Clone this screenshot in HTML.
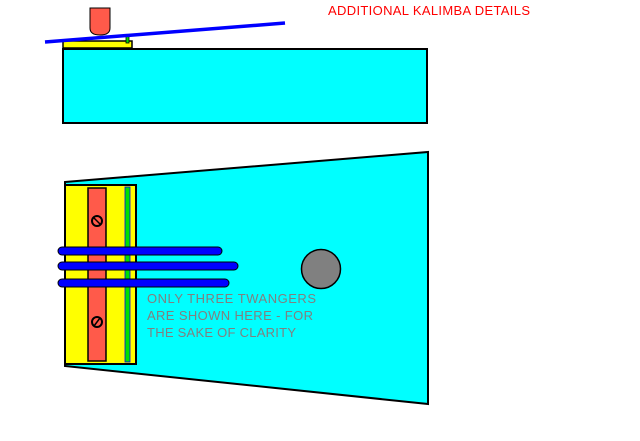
<!DOCTYPE html>
<html><head><meta charset="utf-8"><style>
html,body{margin:0;padding:0;background:#fff;}
svg{display:block;}
text{font-family:"Liberation Sans",Arial,sans-serif;}
</style></head><body>
<svg width="640" height="441" viewBox="0 0 640 441" xmlns="http://www.w3.org/2000/svg">
<text x="328" y="15" font-size="13" fill="#ff0000" textLength="202">ADDITIONAL KALIMBA DETAILS</text>
<rect x="63" y="49" width="364" height="74" fill="#00ffff" stroke="#000" stroke-width="2"/>
<rect x="63" y="41" width="69" height="7" fill="#ffff00" stroke="#000" stroke-width="1.5"/>
<rect x="126" y="36" width="3" height="7" fill="#00e000" stroke="#000" stroke-width="0.8"/>
<path d="M90,8 H110 V28 Q110,35 100,35 Q90,35 90,28 Z" fill="#ff5a4a" stroke="#000" stroke-width="1"/>
<line x1="45" y1="42" x2="285" y2="23" stroke="#0000ff" stroke-width="3.5"/>
<polygon points="65,182 428,152 428,404 65,366" fill="#00ffff" stroke="#000" stroke-width="2"/>
<rect x="65" y="185" width="71" height="179" fill="#ffff00" stroke="#000" stroke-width="2"/>
<rect x="125" y="187" width="5" height="175" fill="#00e000" stroke="#0000ff" stroke-width="0.8"/>
<rect x="88" y="188" width="18" height="173" fill="#ff5a4a" stroke="#000" stroke-width="1.5"/>
<circle cx="97" cy="221" r="5" fill="none" stroke="#000" stroke-width="2"/>
<line x1="94" y1="218" x2="100" y2="224" stroke="#000" stroke-width="1.5"/>
<circle cx="97" cy="322" r="5" fill="none" stroke="#000" stroke-width="2"/>
<line x1="100" y1="318" x2="94" y2="326" stroke="#000" stroke-width="1.5"/>
<rect x="58" y="247" width="164" height="8" rx="4" fill="#0000ff" stroke="#000" stroke-width="1"/>
<rect x="58" y="262" width="180" height="8" rx="4" fill="#0000ff" stroke="#000" stroke-width="1"/>
<rect x="58" y="279" width="171" height="8" rx="4" fill="#0000ff" stroke="#000" stroke-width="1"/>
<circle cx="321" cy="269" r="19.5" fill="#808080" stroke="#000" stroke-width="1.5"/>
<g font-size="13" fill="#808080">
<text x="147" y="303" textLength="169">ONLY THREE TWANGERS</text>
<text x="147" y="320" textLength="166">ARE SHOWN HERE - FOR</text>
<text x="147" y="337" textLength="149">THE SAKE OF CLARITY</text>
</g>
</svg>
</body></html>
